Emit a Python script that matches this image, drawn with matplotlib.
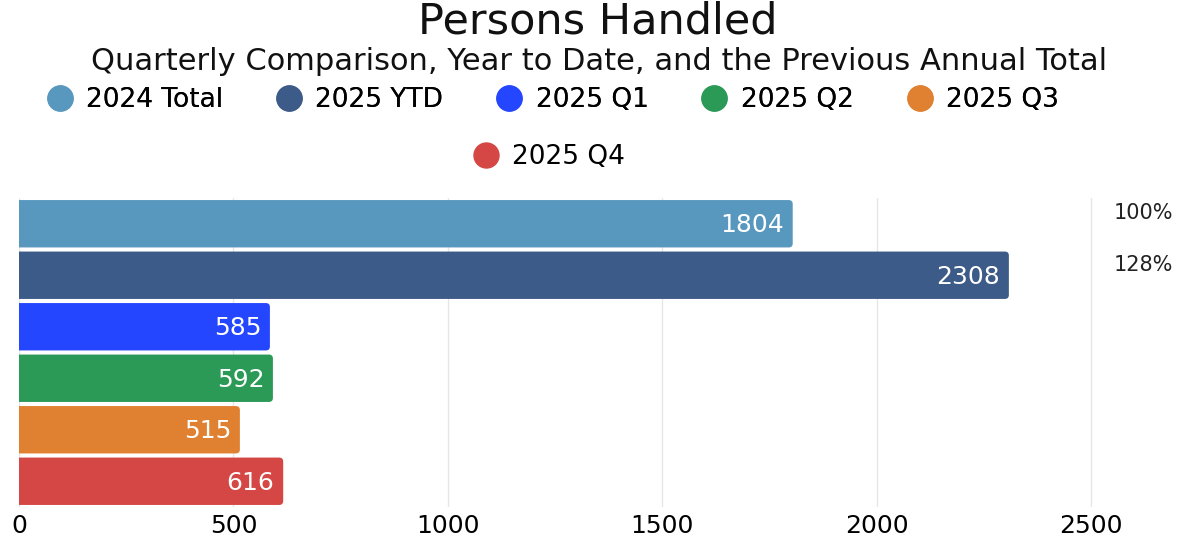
import matplotlib.pyplot as plt
from matplotlib.lines import Line2D
from matplotlib.patches import FancyBboxPatch

plt.rcParams['font.family'] = ['DejaVu Sans']

# data
categories = ["2024 Total", "2025 YTD", "2025 Q1", "2025 Q2", "2025 Q3", "2025 Q4"]
values = [1804, 2308, 585, 592, 515, 616]
colors = ["#5897be", "#3d5b88", "#2446fe", "#2b9a56", "#e08031", "#d44744"]
pct_labels = ["100%", "128%"]
xticks = [0, 500, 1000, 1500, 2000, 2500]

W, H = 1184, 540
fig = plt.figure(figsize=(W / 100, H / 100), dpi=100)

# plot area in pixels
left, right, top, bottom = 19, 1177, 198, 507
ax = fig.add_axes([left / W, 1 - bottom / H, (right - left) / W, (bottom - top) / H])

XMAX = 2700
ypos = list(range(len(categories)))
ax.set_xlim(0, XMAX)
ax.set_ylim(len(categories) - 0.5, -0.5)

bars = ax.barh(ypos, values, height=0.92, color=colors, zorder=2)

# swap the plain rectangles for ones with rounded ends
px_x = XMAX / (right - left)          # data units per pixel, x
px_y = len(categories) / (bottom - top)  # data units per pixel, y
r = 4 * px_x
for b in bars:
    x0, y0 = b.get_x(), b.get_y()
    w, h = b.get_width(), b.get_height()
    b.set_visible(False)
    ax.add_patch(FancyBboxPatch((x0 - 3 * r, y0), w + 3 * r, h,
                                boxstyle=f"round,pad=0,rounding_size={r}",
                                mutation_aspect=px_y / px_x,
                                facecolor=b.get_facecolor(), edgecolor="none",
                                zorder=2))

ax.set_xticks(xticks)
ax.set_xticklabels([str(t) for t in xticks], fontsize=18)
ax.set_yticks([])
ax.tick_params(axis="x", length=0, pad=5)
ax.grid(axis="x", color="#e6e6e6", linewidth=1, zorder=0)
for s in ax.spines.values():
    s.set_visible(False)

# value labels inside bars
for y, v in zip(ypos, values):
    ax.text(v - 20, y + 0.03, str(v), ha="right", va="center",
            color="white", fontsize=18, zorder=3)

# share of the previous annual total, out on the right
for y, p in zip(ypos, pct_labels):
    ax.text(2621, y - 0.2, p, ha="center", va="center",
            color="#222222", fontsize=15)

# title and subtitle
fig.text(0.505, 1 - 22 / H, "Persons Handled", ha="center", va="center",
         fontsize=31, color="#111111")
fig.text(0.506, 1 - 62 / H,
         "Quarterly Comparison, Year to Date, and the Previous Annual Total",
         ha="center", va="center", fontsize=22, color="#111111")

# legend, two rows like the original
handles = [Line2D([], [], marker="o", linestyle="none", markersize=18,
                  markerfacecolor=c, markeredgecolor=c) for c in colors]

leg_kw = dict(frameon=False, fontsize=19, handletextpad=0.45,
              handlelength=1.1, borderpad=0, borderaxespad=0)
leg1 = fig.legend(handles[:5], categories[:5], loc="center left",
                  bbox_to_anchor=(45 / W, 1 - 100 / H), ncol=5,
                  columnspacing=1.95, **leg_kw)
fig.add_artist(leg1)
fig.legend(handles[5:], categories[5:], loc="center left",
           bbox_to_anchor=(471 / W, 1 - 157 / H), **leg_kw)

fig.savefig("out.png", dpi=100, facecolor="white")
